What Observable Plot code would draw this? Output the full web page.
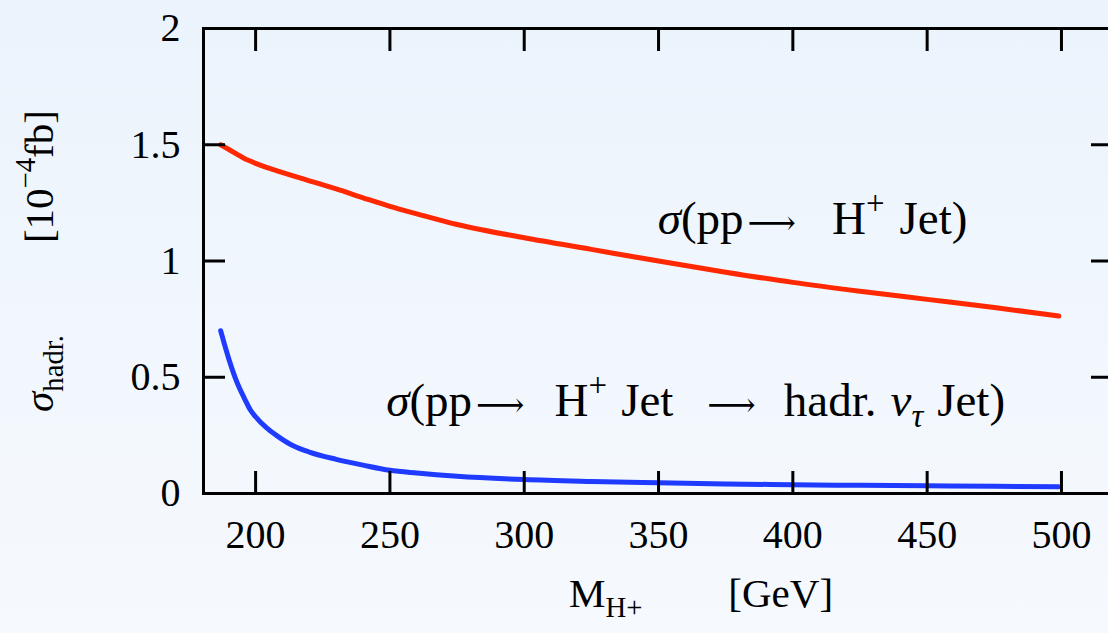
<!DOCTYPE html>
<html>
<head>
<meta charset="utf-8">
<script src="https://cdn.jsdelivr.net/npm/d3@7"></script>
<script src="https://cdn.jsdelivr.net/npm/@observablehq/plot@0.6"></script>
<style>
  html, body { margin: 0; padding: 0; }
  body {
    width: 1108px; height: 633px; overflow: hidden;
    background: linear-gradient(to bottom, #ebf3fc 0%, #f1f7fd 55%, #f6f9fe 100%);
  }
</style>
</head>
<body>
<div id="chart"></div>
<script>
// ---- data ----
const masses = [187, 190, 193, 196, 198, 200, 204, 208, 214, 220, 230, 240, 250, 260, 275, 300, 325, 350, 375, 400, 425, 450, 475, 499];
const sigmaJet = [1.50, 1.48, 1.46, 1.44, 1.43, 1.42, 1.403, 1.388, 1.366, 1.345, 1.31, 1.272, 1.235, 1.203, 1.157, 1.10, 1.05, 1.00, 0.952, 0.908, 0.87, 0.835, 0.80, 0.763];
const sigmaHadr = [0.70, 0.58, 0.48, 0.405, 0.36, 0.33, 0.283, 0.248, 0.205, 0.178, 0.147, 0.122, 0.100, 0.088, 0.074, 0.060, 0.052, 0.046, 0.041, 0.038, 0.035, 0.033, 0.031, 0.029];
const xTicks = [200, 250, 300, 350, 400, 450, 500];
const yTicks = [0, 0.5, 1, 1.5, 2];
const yTickLabels = ["0", "0.5", "1", "1.5", "2"];
const curveLabels = [
  {text: "*{σ}(pp~{4}@{⟶}~{36}H^{+}~{15}Jet)", M: 465, v: 1.18},
  {text: "*{σ}(pp~{4}@{⟶}~{30}H^{+}~{14}Jet~{34}@{⟶}~{28}hadr.~{14}*{ν}!{τ}~{14}Jet)", M: 479, v: 0.40}
];
const yTitle = "*{σ}_{hadr.}~{92}[10^{−4}fb]";
const xTitle = "M_{H+}~{86}[GeV]";

const FONT = "'Liberation Serif', 'DejaVu Serif', serif";
const FS = 40;      // tick labels
const FS_ANN = 47;  // curve annotations
const FS_T = 41;    // axis titles

const jetData = masses.map((m, i) => ({M: m, v: sigmaJet[i]}));
const hadrData = masses.map((m, i) => ({M: m, v: sigmaHadr[i]}));

const chart = Plot.plot({
  width: 1108,
  height: 633,
  marginLeft: 203,
  marginTop: 28,
  marginBottom: 140,
  marginRight: -4,
  style: {background: "transparent", fontFamily: FONT, fontSize: FS + "px", color: "black", overflow: "hidden"},
  x: {domain: [180.6, 519], label: null},
  y: {domain: [0, 2], label: null},
  marks: [
    Plot.line(jetData, {x: "M", y: "v", stroke: "#ff2800", strokeWidth: 5, curve: "monotone-x"}),
    Plot.line(hadrData, {x: "M", y: "v", stroke: "#1f3bff", strokeWidth: 5, curve: "monotone-x"}),
    // inward ticks on all four sides
    Plot.axisX(xTicks, {anchor: "bottom", tickSize: -22, strokeWidth: 3, tickFormat: () => "", label: null}),
    Plot.axisX(xTicks, {anchor: "top", tickSize: -22, strokeWidth: 3, tickFormat: () => "", label: null}),
    Plot.axisY(yTicks, {anchor: "left", tickSize: -22, strokeWidth: 3, tickFormat: () => "", label: null}),
    Plot.axisY(yTicks, {anchor: "right", tickSize: -22, strokeWidth: 3, tickFormat: () => "", label: null}),
    // tick labels
    Plot.axisX(xTicks, {anchor: "bottom", tickSize: 0, tickPadding: 26, fontSize: FS, label: null, tickFormat: d => String(d)}),
    Plot.axisY(yTicks, {anchor: "left", tickSize: 0, tickPadding: 23, fontSize: FS, label: null, tickFormat: (d, i) => yTickLabels[i]}),
    Plot.frame({stroke: "black", strokeWidth: 3}),
    // curve annotations
    Plot.text(curveLabels, {x: "M", y: "v", text: "text", textAnchor: "end", fontSize: FS_ANN, fill: "black"}),
    // axis titles
    Plot.text([yTitle], {frameAnchor: "left", rotate: -90, textAnchor: "middle", lineAnchor: "top", dx: -180, fontSize: FS_T, fill: "black"}),
    Plot.text([xTitle], {frameAnchor: "bottom", textAnchor: "middle", lineAnchor: "top", dx: 43, dy: 84, fontSize: FS_T, fill: "black"})
  ]
});

// turn the small markup into tspans (super/subscripts, italics, gaps, arrows)
function richify(el) {
  const s = el.textContent;
  if (!/[\^_*!~@]\{/.test(s)) return;
  const fs = parseFloat(el.getAttribute("font-size")) || FS;
  el.textContent = "";
  const re = /([\^_*!~@])\{([^}]*)\}|([^\^_*!~@]+|[\^_*!~@])/g;
  let m, shift = 0, pendingDx = 0;
  const ns = "http://www.w3.org/2000/svg";
  while ((m = re.exec(s))) {
    if (m[1] === "~") { pendingDx += +m[2]; continue; }
    const t = document.createElementNS(ns, "tspan");
    let target = 0;
    const k = m[1];
    if (k === "^") { target = -0.42 * fs; t.setAttribute("font-size", 0.7 * fs); t.textContent = m[2]; }
    else if (k === "_") { target = 0.25 * fs; t.setAttribute("font-size", 0.7 * fs); t.textContent = m[2]; }
    else if (k === "!") { target = 0.25 * fs; t.setAttribute("font-size", 0.7 * fs); t.setAttribute("font-style", "italic"); t.textContent = m[2]; }
    else if (k === "*") { t.setAttribute("font-style", "italic"); t.textContent = m[2]; }
    else if (k === "@") { t.setAttribute("font-family", "'DejaVu Sans', 'DejaVu Serif'"); t.setAttribute("font-size", 0.72 * fs); t.setAttribute("font-weight", "200"); t.textContent = m[2]; }
    else { t.textContent = m[3]; }
    if (target !== shift) { t.setAttribute("dy", (target - shift).toFixed(2)); shift = target; }
    if (pendingDx) { t.setAttribute("dx", pendingDx); pendingDx = 0; }
    el.appendChild(t);
  }
}
chart.querySelectorAll("text").forEach(el => {
  const fsAttr = el.getAttribute("font-size") || (el.parentNode && el.parentNode.getAttribute && el.parentNode.getAttribute("font-size"));
  if (fsAttr && !el.getAttribute("font-size")) el.setAttribute("font-size", fsAttr);
  richify(el);
});

document.getElementById("chart").appendChild(chart);
</script>
</body>
</html>
